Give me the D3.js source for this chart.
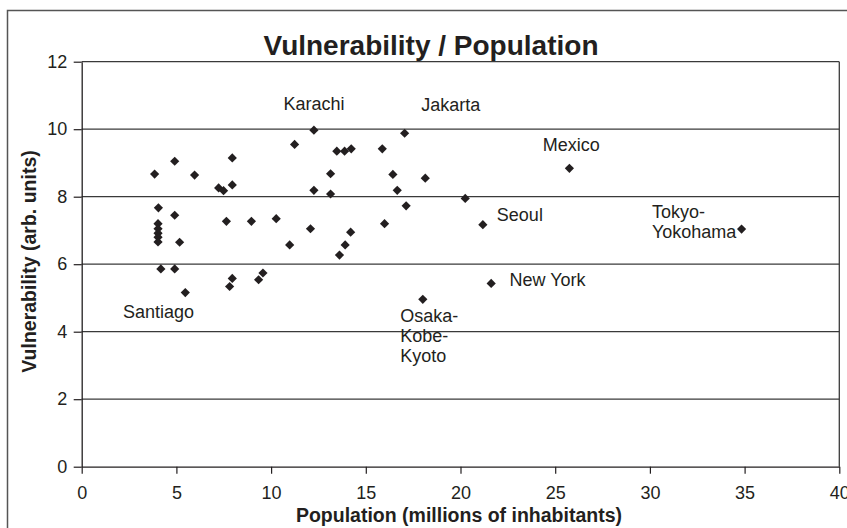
<!DOCTYPE html>
<html>
<head>
<meta charset="utf-8">
<script src="https://cdn.jsdelivr.net/npm/d3@7"></script>
<style>
  html, body { margin: 0; padding: 0; background: #fff; }
  svg { display: block; }
  text { font-family: "Liberation Sans", Arial, sans-serif; fill: #231f20; }
</style>
</head>
<body>
<svg id="chart" width="847" height="528"></svg>
<script>
// ---------- data ----------
const population = [
  3.85, 4.91, 5.96, 7.95, 7.23, 7.49, 7.95, 4.05, 4.91,
  4.03, 4.03, 4.03, 4.03, 4.03, 5.17, 7.64, 8.96, 4.18, 4.91,
  7.95, 7.81, 9.57, 9.34, 5.47,
  12.26, 11.24, 13.47, 13.88, 14.23, 15.87, 13.14, 16.43, 12.26,
  13.14, 16.66, 10.27, 12.08, 15.99, 10.98, 14.20, 13.91, 13.61,
  17.05, 18.14, 20.25, 17.13, 21.18, 21.62, 18.01, 25.75, 34.84
];
const vulnerability = [
  8.67, 9.05, 8.64, 9.15, 8.26, 8.18, 8.35, 7.67, 7.45,
  7.20, 7.05, 6.92, 6.80, 6.66, 6.65, 7.27, 7.27, 5.86, 5.86,
  5.58, 5.34, 5.74, 5.54, 5.16,
  9.97, 9.55, 9.35, 9.35, 9.42, 9.42, 8.68, 8.66, 8.19,
  8.08, 8.19, 7.35, 7.05, 7.20, 6.57, 6.95, 6.57, 6.27,
  9.88, 8.55, 7.95, 7.73, 7.17, 5.43, 4.96, 8.84, 7.04
];
const cityLabels = [
  ["Santiago"], ["Karachi"], ["Jakarta"], ["Mexico"], ["Seoul"],
  ["New York"], ["Osaka-", "Kobe-", "Kyoto"], ["Tokyo-", "Yokohama"]
];
const cityPointIndex = [23, 24, 42, 49, 46, 47, 48, 50];
const xTicks = [0, 5, 10, 15, 20, 25, 30, 35, 40];
const yTicks = [0, 2, 4, 6, 8, 10, 12];
const title = "Vulnerability / Population";
const xTitle = "Population (millions of inhabitants)";
const yTitle = "Vulnerability (arb. units)";

// ---------- layout (not data) ----------
const labelLayout = [
  {dx: -62.4, dy: 25, anchor: "start"},
  {dx: 0, dy: -20, anchor: "middle"},
  {dx: 16.7, dy: -22.7, anchor: "start"},
  {dx: -26.7, dy: -17.7, anchor: "start"},
  {dx: 14, dy: -3.3, anchor: "start"},
  {dx: 18.3, dy: 2.3, anchor: "start"},
  {dx: -22.6, dy: 23, anchor: "start"},
  {dx: -89.6, dy: -11.6, anchor: "start"}
];
const ink = "#231f20";

const svg = d3.select("#chart");
svg.append("rect").attr("width", 847).attr("height", 528).attr("fill", "#fff");

// outer frame
svg.append("rect")
  .attr("x", 7.5).attr("y", 10.5).attr("width", 900).attr("height", 600)
  .attr("fill", "none").attr("stroke", "#555").attr("stroke-width", 1.5);

const x = d3.scaleLinear().domain([0, 40]).range([81.7, 839.3]);
const y = d3.scaleLinear().domain([0, 12]).range([466.7, 61.7]);

// gridlines
svg.append("g").selectAll("line")
  .data(yTicks.filter(t => t > 0))
  .join("line")
  .attr("x1", x(0)).attr("x2", x(40))
  .attr("y1", d => y(d)).attr("y2", d => y(d))
  .attr("stroke", "#3a3a3a").attr("stroke-width", 1.3);

// right border
svg.append("line")
  .attr("x1", x(40)).attr("x2", x(40)).attr("y1", y(12)).attr("y2", y(0))
  .attr("stroke", "#3a3a3a").attr("stroke-width", 1.3);

// axes
const yAxis = svg.append("g")
  .attr("transform", `translate(${x(0)},0)`)
  .call(d3.axisLeft(y).tickValues(yTicks).tickSize(8).tickPadding(6.5).tickSizeOuter(0));
const xAxis = svg.append("g")
  .attr("transform", `translate(0,${y(0)})`)
  .call(d3.axisBottom(x).tickValues(xTicks).tickSize(7).tickPadding(13).tickSizeOuter(0));
[xAxis, yAxis].forEach(g => {
  g.selectAll("path.domain").attr("stroke", ink).attr("stroke-width", 1.3);
  g.selectAll(".tick line").attr("stroke", ink).attr("stroke-width", 1.2);
  g.selectAll(".tick text")
    .style("font-family", '"Liberation Sans", Arial, sans-serif')
    .style("font-size", "18px").attr("fill", ink);
});

// points (diamonds)
const r = 4.6;
const diamond = `M0,${-r}L${r},0L0,${r}L${-r},0Z`;
svg.append("g").selectAll("path")
  .data(population.map((p, i) => [p, vulnerability[i]]))
  .join("path")
  .attr("d", diamond)
  .attr("transform", d => `translate(${x(d[0])},${y(d[1])})`)
  .attr("fill", ink);

// city labels
cityLabels.forEach((lines, k) => {
  const i = cityPointIndex[k];
  const L = labelLayout[k];
  const px = x(population[i]) + L.dx;
  const py = y(vulnerability[i]) + L.dy;
  const t = svg.append("text")
    .attr("x", px).attr("y", py)
    .attr("text-anchor", L.anchor)
    .style("font-size", "18px");
  lines.forEach((ln, j) => {
    t.append("tspan").attr("x", px).attr("y", py + j * 20).text(ln);
  });
});

// titles
svg.append("text")
  .attr("x", 431).attr("y", 55)
  .attr("text-anchor", "middle")
  .style("font-size", "28px").style("font-weight", "bold")
  .text(title);

svg.append("text")
  .attr("x", 459).attr("y", 522)
  .attr("text-anchor", "middle")
  .style("font-size", "19.5px").style("font-weight", "bold")
  .text(xTitle);

svg.append("text")
  .attr("transform", "translate(36,261.5) rotate(-90)")
  .attr("text-anchor", "middle")
  .style("font-size", "19.5px").style("font-weight", "bold")
  .text(yTitle);
</script>
</body>
</html>
